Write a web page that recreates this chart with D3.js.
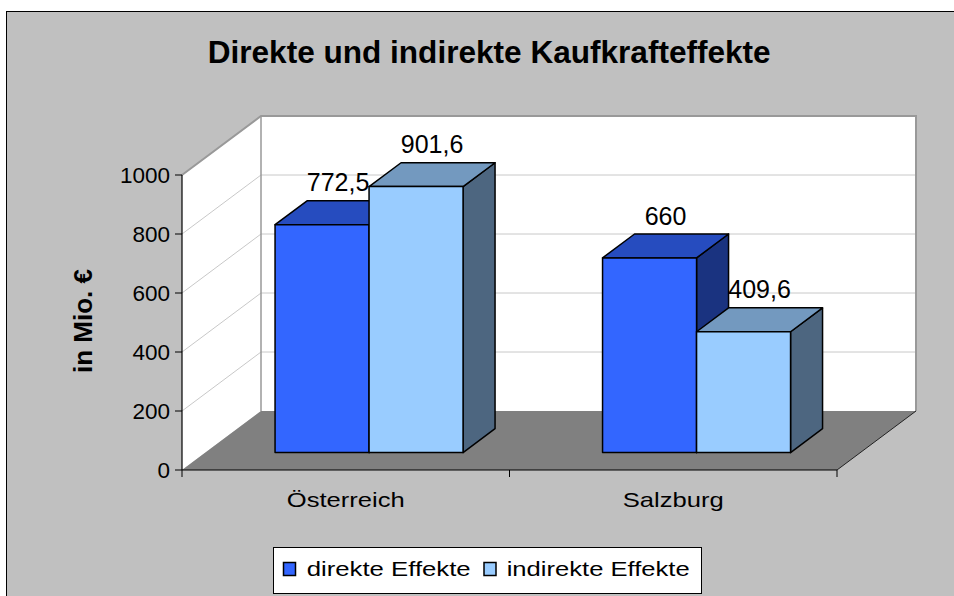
<!DOCTYPE html>
<html>
<head>
<meta charset="utf-8">
<script src="https://cdn.jsdelivr.net/npm/d3@7"></script>
<style>
  html, body { margin: 0; padding: 0; background: #ffffff; }
  svg { display: block; font-family: Arial, "Liberation Sans", sans-serif; }
</style>
</head>
<body>
<svg id="chart" width="954" height="596"></svg>
<script>
// ---- data ----
const categories = ["Österreich", "Salzburg"];
const seriesNames = ["direkte Effekte", "indirekte Effekte"];
const direkteValues = [772.5, 660];
const indirekteValues = [901.6, 409.6];
const yTicks = [0, 200, 400, 600, 800, 1000];
const titleText = "Direkte und indirekte Kaufkrafteffekte";
const yAxisTitle = "in Mio. €";

const seriesValues = [direkteValues, indirekteValues];
const frontColors = ["#3366FF", "#99CCFF"];
const topColors = ["#264CBF", "#7399BF"];
const sideColors = ["#1A3380", "#4D6680"];

const svg = d3.select("#chart");
const locale = d3.formatLocale({ decimal: ",", thousands: "", grouping: [3], currency: ["", " €"] });
const fmt = locale.format("~f");

// background + outer frame
svg.append("rect").attr("x", 6.5).attr("y", 11.5).attr("width", 960).attr("height", 600)
  .attr("fill", "#C0C0C0").attr("stroke", "#000").attr("stroke-width", 1);

// ---- scales / projection ----
const xLeft = 182, xRight = 837;
const y = d3.scaleLinear().domain([0, 1000]).range([470, 175]);
const x0 = d3.scaleBand().domain(categories).range([xLeft, xRight]).padding(0);
const x1 = d3.scaleBand().domain(seriesNames).range([0, x0.bandwidth()]).paddingInner(0).paddingOuter(0.742);
const DX = 79, DY = -59;
const P = (x, v, z) => [x + z * DX, y(v) + z * DY];
const poly = pts => "M" + pts.map(p => p.join(",")).join("L") + "Z";

const g = svg.append("g");

// walls
g.append("path").attr("d", poly([P(xLeft, 0, 0), P(xLeft, 1000, 0), P(xLeft, 1000, 1), P(xLeft, 0, 1)]))
  .attr("fill", "#fff");
g.append("path").attr("d", poly([P(xLeft, 0, 1), P(xLeft, 1000, 1), P(xRight, 1000, 1), P(xRight, 0, 1)]))
  .attr("fill", "#fff");

// gridlines
yTicks.filter(v => v > 0).forEach(v => {
  g.append("line").attr("x1", P(xLeft, v, 0)[0]).attr("y1", P(xLeft, v, 0)[1])
    .attr("x2", P(xLeft, v, 1)[0]).attr("y2", P(xLeft, v, 1)[1])
    .attr("stroke", "#C8C8C8").attr("stroke-width", 1);
  g.append("line").attr("x1", P(xLeft, v, 1)[0]).attr("y1", P(xLeft, v, 1)[1])
    .attr("x2", P(xRight, v, 1)[0]).attr("y2", P(xRight, v, 1)[1])
    .attr("stroke", "#C8C8C8").attr("stroke-width", 1);
});

// floor
g.append("path").attr("d", poly([P(xLeft, 0, 0), P(xRight, 0, 0), P(xRight, 0, 1), P(xLeft, 0, 1)]))
  .attr("fill", "#808080");

// wall borders
g.append("path").attr("d", "M" + [P(xLeft, 1000, 0), P(xLeft, 1000, 1), P(xRight, 1000, 1), P(xRight, 0, 1)].map(p => p.join(",")).join("L"))
  .attr("fill", "none").attr("stroke", "#999").attr("stroke-width", 2);
g.append("line").attr("x1", P(xLeft, 0, 1)[0]).attr("y1", P(xLeft, 0, 1)[1])
  .attr("x2", P(xLeft, 1000, 1)[0]).attr("y2", P(xLeft, 1000, 1)[1])
  .attr("stroke", "#999").attr("stroke-width", 1.5);
// floor right edge
g.append("line").attr("x1", P(xRight, 0, 0)[0]).attr("y1", P(xRight, 0, 0)[1])
  .attr("x2", P(xRight, 0, 1)[0]).attr("y2", P(xRight, 0, 1)[1])
  .attr("stroke", "#222").attr("stroke-width", 1);

// bars
const z0 = 0.295, z1 = 0.70;
categories.forEach((cat, i) => {
  seriesNames.forEach((s, j) => {
    const v = seriesValues[j][i];
    const x = x0(cat) + x1(s);
    const w = x1.bandwidth();
    const bg = g.append("g").attr("stroke", "#000").attr("stroke-width", 1.5).attr("stroke-linejoin", "round");
    bg.append("path").attr("d", poly([P(x + w, 0, z0), P(x + w, v, z0), P(x + w, v, z1), P(x + w, 0, z1)]))
      .attr("fill", sideColors[j]);
    bg.append("path").attr("d", poly([P(x, v, z0), P(x + w, v, z0), P(x + w, v, z1), P(x, v, z1)]))
      .attr("fill", topColors[j]);
    bg.append("path").attr("d", poly([P(x, 0, z0), P(x + w, 0, z0), P(x + w, v, z0), P(x, v, z0)]))
      .attr("fill", frontColors[j]);
  });
});

// value labels
categories.forEach((cat, i) => {
  seriesNames.forEach((s, j) => {
    const v = seriesValues[j][i];
    const x = x0(cat) + x1(s) + x1.bandwidth() / 2 + (z0 + z1) / 2 * DX;
    const yy = y(v) + z1 * DY - 9.5;
    svg.append("text").attr("x", x).attr("y", yy).attr("text-anchor", "middle")
      .attr("font-size", 25).attr("fill", "#000").text(fmt(v));
  });
});

// y axis
g.append("line").attr("x1", xLeft).attr("y1", y(1000)).attr("x2", xLeft).attr("y2", y(0))
  .attr("stroke", "#000").attr("stroke-width", 1.2);
yTicks.forEach(v => {
  g.append("line").attr("x1", xLeft - 7).attr("y1", y(v)).attr("x2", xLeft).attr("y2", y(v))
    .attr("stroke", "#000").attr("stroke-width", 1);
  svg.append("text").attr("x", xLeft - 12).attr("y", y(v) + 8).attr("text-anchor", "end")
    .attr("font-size", 22.5).attr("fill", "#000").text(fmt(v));
});

// category axis
g.append("line").attr("x1", xLeft).attr("y1", y(0)).attr("x2", xRight).attr("y2", y(0))
  .attr("stroke", "#000").attr("stroke-width", 1.2);
[xLeft, x0(categories[1]), xRight].forEach(xt => {
  g.append("line").attr("x1", xt).attr("y1", y(0)).attr("x2", xt).attr("y2", y(0) + 7)
    .attr("stroke", "#000").attr("stroke-width", 1);
});
const catWidths = [118, 101];
categories.forEach((cat, i) => {
  const cx = x0(cat) + x0.bandwidth() / 2;
  svg.append("text").attr("x", cx - catWidths[i] / 2).attr("y", 507)
    .attr("font-size", 21).attr("textLength", catWidths[i]).attr("lengthAdjust", "spacingAndGlyphs")
    .attr("fill", "#000").text(cat);
});

// title
svg.append("text").attr("x", 207.7).attr("y", 62.7).attr("font-size", 31).attr("font-weight", "bold")
  .attr("textLength", 563).attr("lengthAdjust", "spacingAndGlyphs").attr("fill", "#000").text(titleText);

// y-axis title
svg.append("text").attr("transform", "translate(91.5,321) rotate(-90)").attr("text-anchor", "middle")
  .attr("font-size", 26).attr("font-weight", "bold").attr("fill", "#000").text(yAxisTitle);

// legend
svg.append("rect").attr("x", 273.5).attr("y", 547.5).attr("width", 428).attr("height", 46)
  .attr("fill", "#fff").attr("stroke", "#000").attr("stroke-width", 1);
const legendItems = [
  { sx: 283, tx: 306.7, tw: 164 },
  { sx: 483.5, tx: 506.7, tw: 183 }
];
seriesNames.forEach((s, j) => {
  const it = legendItems[j];
  svg.append("rect").attr("x", it.sx + 0.5).attr("y", 562.5).attr("width", 12).attr("height", 13)
    .attr("fill", frontColors[j]).attr("stroke", "#000").attr("stroke-width", 1.5);
  svg.append("text").attr("x", it.tx).attr("y", 576).attr("font-size", 21)
    .attr("textLength", it.tw).attr("lengthAdjust", "spacingAndGlyphs").attr("fill", "#000").text(s);
});
</script>
</body>
</html>
